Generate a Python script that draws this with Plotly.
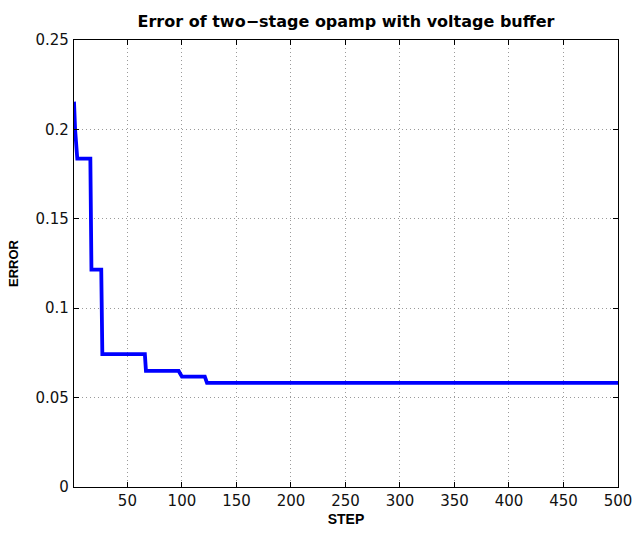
import plotly.graph_objects as go

# Optimisation history: error value at each breakpoint step
steps = [1, 2, 4, 16, 17, 26, 27, 66, 67, 97, 100, 121, 123, 500]
errors = [0.2155, 0.2, 0.1836, 0.1836, 0.1216, 0.1216, 0.0743, 0.0743,
          0.0649, 0.0649, 0.0617, 0.0617, 0.0582, 0.0582]

x_ticks = [50, 100, 150, 200, 250, 300, 350, 400, 450, 500]
y_ticks = [0, 0.05, 0.1, 0.15, 0.2, 0.25]
y_tick_text = ["0", "0.05", "0.1", "0.15", "0.2", "0.25"]

tick_font = "DejaVu Sans, Liberation Sans, Arial, sans-serif"
label_font = "Liberation Sans, Arial, Helvetica, sans-serif"

fig = go.Figure()
fig.add_trace(go.Scatter(
    x=steps, y=errors, mode="lines",
    line=dict(color="#0000FF", width=3.8),
    showlegend=False,
))

axis_common = dict(
    showline=True, linecolor="black", linewidth=1.2, mirror="ticks",
    ticks="inside", ticklen=5, tickcolor="black", tickwidth=1,
    showgrid=True, gridcolor="#9a9a9a", griddash="1px,3px", gridwidth=1,
    zeroline=False,
    tickfont=dict(family=tick_font, size=15, color="#111"),
)

fig.update_xaxes(
    range=[1, 500], tickvals=x_ticks,
    title=dict(text="<b>STEP</b>", font=dict(family=label_font, size=14, color="black"),
               standoff=5),
    **axis_common,
)
fig.update_yaxes(
    range=[0, 0.25], tickvals=y_ticks, ticktext=y_tick_text,
    ticklabelstandoff=1,
    title=dict(text="<b>ERROR</b>", font=dict(family=label_font, size=13, color="black"),
               standoff=13),
    **axis_common,
)

fig.update_layout(
    width=644, height=536,
    margin=dict(l=74, r=26, t=40, b=49),
    paper_bgcolor="white", plot_bgcolor="white",
    title=dict(
        text="<b>Error of two\u2212stage opamp with voltage buffer</b>",
        font=dict(family=tick_font, size=16, color="black"),
        x=(74 + 618) / 2 / 644, xanchor="center",
        y=1 - 21 / 536, yanchor="middle",
    ),
)

fig.write_html("out.html")
